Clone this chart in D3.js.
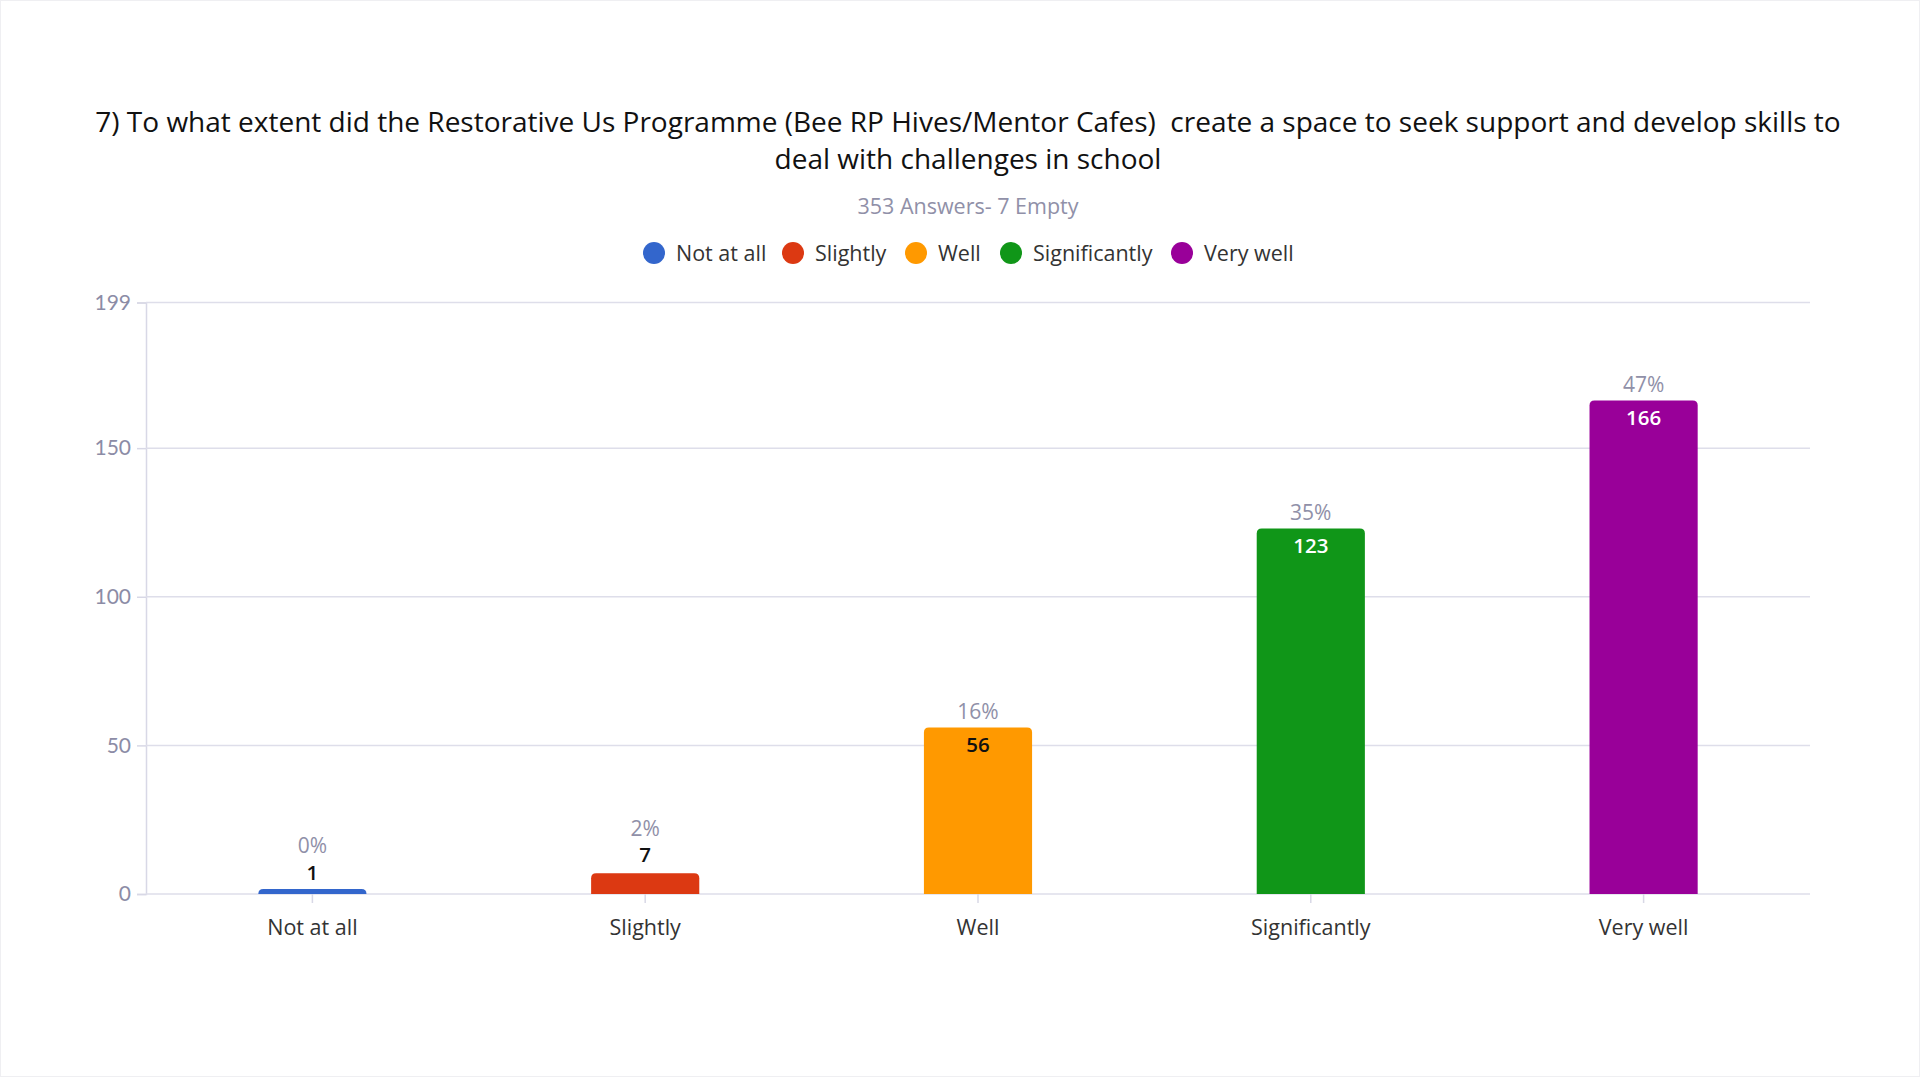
<!DOCTYPE html>
<html>
<head>
<meta charset="utf-8">
<script src="https://cdn.jsdelivr.net/npm/d3@7"></script>
<style>
  html, body { margin: 0; padding: 0; background: #fff; }
  svg { display: block; font-family: "Open Sans", "Noto Sans", sans-serif; }
</style>
</head>
<body>
<svg id="chart" width="1920" height="1077"></svg>
<script>
// chart data
var titleLines = [
    "7) To what extent did the Restorative Us Programme (Bee RP Hives/Mentor Cafes)  create a space to seek support and develop skills to",
    "deal with challenges in school"
];
var subtitle = "353 Answers- 7 Empty";
var categories = ["Not at all", "Slightly", "Well", "Significantly", "Very well"];
var counts = [1, 7, 56, 123, 166];
var percents = ["0%", "2%", "16%", "35%", "47%"];
var yTicks = [0, 50, 100, 150, 199];
var yMax = 199;

var colors = ["#3366cc", "#dc3912", "#ff9900", "#109618", "#990099"];

var W = 1920, H = 1077,
    margin = {left: 146, right: 110, top: 302.5, bottom: 183};

var svg = d3.select("#chart");

// faint frame like the screenshot
svg.append("rect")
    .attr("x", 0.5).attr("y", 0.5)
    .attr("width", W - 1).attr("height", H - 1)
    .attr("fill", "#fff")
    .attr("stroke", "#efeff2");

// Title
svg.append("g").selectAll("text")
    .data(titleLines)
    .enter().append("text")
    .attr("x", 968)
    .attr("y", function (d, i) { return 132 + i * 37; })
    .attr("text-anchor", "middle")
    .style("font-size", "28px")
    .style("fill", "#111")
    .style("white-space", "pre")
    .text(function (d) { return d; });

svg.append("text")
    .attr("x", 968)
    .attr("y", 214)
    .attr("text-anchor", "middle")
    .style("font-size", "21.5px")
    .style("fill", "#9090a8")
    .text(subtitle);

// Legend
var legendX = [654, 793, 916, 1011, 1182];
var legend = svg.append("g").selectAll(".legend")
    .data(categories)
    .enter().append("g")
    .attr("class", "legend")
    .attr("transform", function (d, i) { return "translate(" + legendX[i] + ",253)"; });

legend.append("circle")
    .attr("r", 11)
    .style("fill", function (d, i) { return colors[i]; });

legend.append("text")
    .attr("x", 22)
    .attr("dy", "0.35em")
    .style("font-size", "21.5px")
    .style("fill", "#333")
    .text(function (d) { return d; });

// Scales
var x = d3.scaleBand()
    .domain(categories)
    .range([margin.left, W - margin.right])
    .paddingInner(0.675)
    .paddingOuter(0.3375);

var y = d3.scaleLinear()
    .domain([0, yMax])
    .range([H - margin.bottom, margin.top]);

// Grid + y axis
var yAxis = svg.append("g")
    .attr("transform", "translate(" + margin.left + ",0)")
    .call(d3.axisLeft(y)
        .tickValues(yTicks)
        .tickSize(9)
        .tickPadding(6));
yAxis.select(".domain").attr("stroke", "#d8d8e6").attr("stroke-width", 1.5);
yAxis.selectAll(".tick line").attr("stroke", "#d8d8e6").attr("stroke-width", 1.5);
yAxis.selectAll(".tick text")
    .style("font-size", "21px")
    .style("fill", "#8c8ca6")
    .style("font-family", "Lato, sans-serif");

svg.append("g").selectAll("line")
    .data(yTicks)
    .enter().append("line")
    .attr("x1", margin.left)
    .attr("x2", W - margin.right)
    .attr("y1", function (d) { return y(d); })
    .attr("y2", function (d) { return y(d); })
    .attr("stroke", "#dedeea")
    .attr("stroke-width", 1.5);

// X axis
var xAxis = svg.append("g")
    .attr("transform", "translate(0," + y(0) + ")")
    .call(d3.axisBottom(x).tickSize(9).tickPadding(17));
xAxis.select(".domain").remove();
xAxis.selectAll(".tick line").attr("stroke", "#d8d8e6").attr("stroke-width", 1.5);
xAxis.selectAll(".tick text")
    .style("font-size", "21.5px")
    .style("fill", "#333")
    .style("font-family", "'Open Sans', sans-serif");

// bars with rounded top corners
function barPath(x0, y0, w, h, r) {
    r = Math.min(r, h, w / 2);
    return "M" + x0 + "," + (y0 + h) +
        "V" + (y0 + r) +
        "Q" + x0 + "," + y0 + " " + (x0 + r) + "," + y0 +
        "H" + (x0 + w - r) +
        "Q" + (x0 + w) + "," + y0 + " " + (x0 + w) + "," + (y0 + r) +
        "V" + (y0 + h) + "Z";
}

var bars = svg.append("g").selectAll(".bar")
    .data(categories)
    .enter().append("g")
    .attr("class", "bar");

bars.append("path")
    .attr("d", function (d, i) {
        // keep tiny bars visible, like the source chart does
        var h = Math.max(y(0) - y(counts[i]), 5);
        return barPath(x(d), y(0) - h, x.bandwidth(), h, 5);
    })
    .style("fill", function (d, i) { return colors[i]; });

// labels: value inside tall bars, above short ones; percent above
bars.each(function (d, i) {
    var g = d3.select(this),
        cx = x(d) + x.bandwidth() / 2,
        top = y(counts[i]),
        inside = (y(0) - top) > 30,
        dark = d3.lab(colors[i]).l > 60;

    g.append("text")
        .attr("x", cx)
        .attr("y", inside ? top + 17 : top - 18)
        .attr("dy", "0.35em")
        .attr("text-anchor", "middle")
        .style("font-size", "20.5px")
        .style("font-weight", "600")
        .style("fill", inside && !dark ? "#fff" : "#111")
        .text(counts[i]);

    g.append("text")
        .attr("x", cx)
        .attr("y", inside ? top - 16 : top - 45)
        .attr("dy", "0.35em")
        .attr("text-anchor", "middle")
        .style("font-size", "21px")
        .style("fill", "#9090a8")
        .text(percents[i]);
});
</script>
</body>
</html>
